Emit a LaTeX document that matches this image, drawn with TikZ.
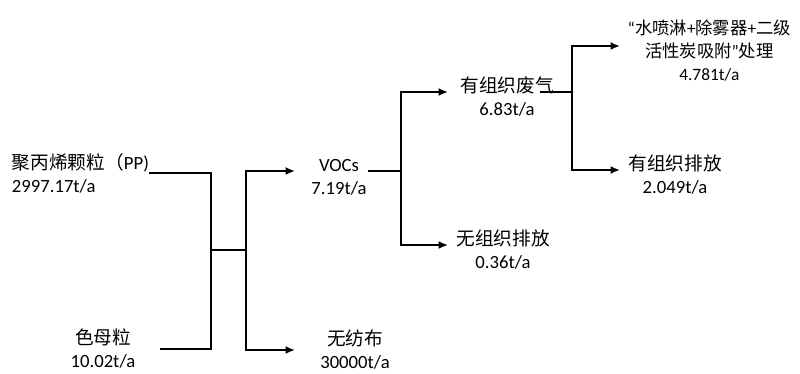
\documentclass[tikz,border=0pt]{standalone}
\usepackage{fontspec}
\setmainfont{Carlito}
\newfontfamily\cjk{Noto Sans CJK SC}
\usepackage{tikz}
\usetikzlibrary{arrows.meta}
\newcommand{\flowfont}{\fontsize{14pt}{17.25pt}\selectfont}
\newcommand{\smallflowfont}{\fontsize{13pt}{17.25pt}\selectfont}
% products sit a little below their arrows
\newcommand{\tallrow}{\rule{0pt}{18pt}}
\tikzstyle{flow}=[line width=1.5pt]
\tikzstyle{flowarrow}=[flow, -{Latex[length=7pt, width=6pt]}]
\tikzstyle{quantity}=[inner sep=0, outer sep=0, align=center, font=\flowfont]
\tikzstyle{product}=[quantity, anchor=west]
\tikzstyle{balance}=[x=0.75pt, y=-0.75pt] % one unit = one pixel of the original, y downwards

\begin{document}
\begin{tikzpicture}[balance]
        \useasboundingbox (0,0) rectangle (800,374);
        % raw materials
        \node[quantity, anchor=west, align=left] (pp) at (12,173) {{\cjk 聚丙烯颗粒（}PP)\\2997.17t/a};
        \node[quantity, minimum width=85.5pt] (mb) at (103,349) {{\cjk 色母粒}\\10.02t/a};
        \coordinate (mix) at (211,250);
        \coordinate (split) at (246,250);
        % products
        \node[product, minimum width=66pt] (voc) at (295,171) {\tallrow VOCs\\7.19t/a};
        \node[product, minimum width=90pt] (wfb) at (295,350) {{\cjk 无纺布}\\30000t/a};
        \coordinate (vocsplit) at (401,171);
        \node[product, minimum width=88.5pt] (yzfq) at (448,92) {\tallrow{\cjk 有组织废气}\\6.83t/a};
        \node[product, minimum width=82.5pt] (wzpf) at (448,245) {\tallrow{\cjk 无组织排放}\\0.36t/a};
        \coordinate (gassplit) at (572,92);
        \node[product, minimum width=134pt, font=\smallflowfont] (cl) at (620,46) {\tallrow“{\cjk 水喷淋}+{\cjk 除雾器}+{\cjk 二级}\\{\cjk 活性炭吸附}”{\cjk 处理}\\4.781t/a};
        \node[product, minimum width=82.5pt] (yzpf) at (620,170) {\tallrow{\cjk 有组织排放}\\2.049t/a};
        \draw[flow] (pp.east) -| (mix |- mb.east) -- (mb.east);
        \draw[flow] (mix) -- (split);
        \draw[flowarrow] (split) |- (voc.west);
        \draw[flowarrow] (split) |- (wfb.west);
        \draw[flow, shorten <=-11.25pt] (voc.east) -- (vocsplit);
        \draw[flowarrow] (vocsplit) |- (yzfq.west);
        \draw[flowarrow] (vocsplit) |- (wzpf.west);
        \draw[flow, shorten <=-19.5pt] (yzfq.east) -- (gassplit);
        \draw[flowarrow] (gassplit) |- (cl.west);
        \draw[flowarrow] (gassplit) |- (yzpf.west);
    \end{tikzpicture}
\end{document}
